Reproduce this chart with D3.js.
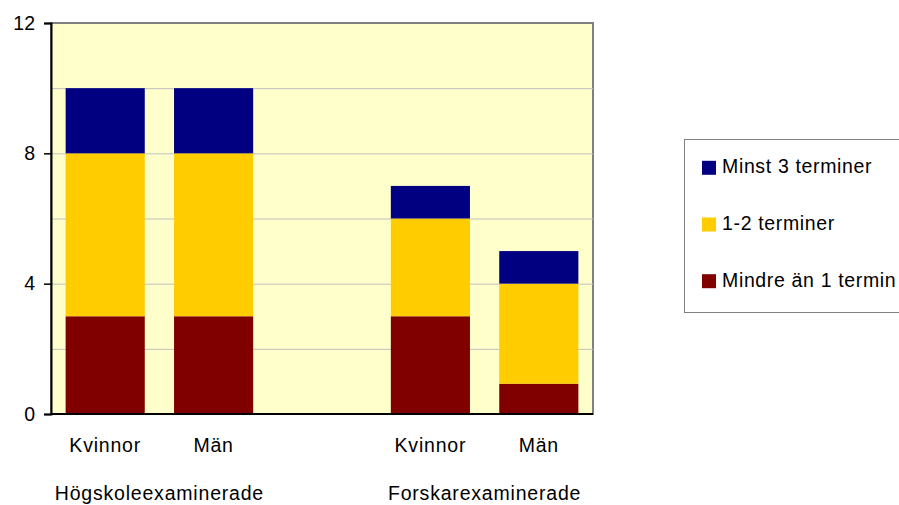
<!DOCTYPE html>
<html>
<head>
<meta charset="utf-8">
<script src="https://cdn.jsdelivr.net/npm/d3@7"></script>
<style>
  body { margin: 0; background: #fff; }
  svg text { font-family: "Liberation Sans", Arial, sans-serif; fill: #000; }
</style>
</head>
<body>
<div id="chart"></div>
<script>
(function(){

    // data
    var slots = ["hk", "hm", "gap", "fk", "fm"];
    var barLabels = ["Kvinnor", "Män", "", "Kvinnor", "Män"];
    var groups = ["Högskoleexaminerade", "Forskarexaminerade"];
    var groupSlots = [["hk", "hm"], ["fk", "fm"]];
    var seriesNames = ["Mindre än 1 termin", "1-2 terminer", "Minst 3 terminer"];
    var mindre = [3, 3, 0, 3, 0.93];
    var ettTva = [5, 5, 0, 3, 3.07];
    var minst = [2, 2, 0, 1, 1];
    var colors = ["#800000", "#ffcc00", "#000080"];
    var yTicks = [0, 4, 8, 12];
    var yGrid = [2, 4, 6, 8, 10];

    var width = 899, height = 505;
    var left = 51, right = 593, top = 23, bottom = 414;

    var rows = slots.map(function(s, i){
      return { slot: s, a: mindre[i], b: ettTva[i], c: minst[i] };
    });
    var stack = d3.stack().keys(["a", "b", "c"])(rows.filter(function(r){ return r.slot != "gap"; }));

    var x = d3.scaleBand().domain(slots).range([left, right]).paddingInner(0.27).paddingOuter(0.135);
    var y = d3.scaleLinear().domain([0, 12]).range([bottom, top]);

    var svg = d3.select("#chart").append("svg")
      .attr("width", width)
      .attr("height", height);

    svg.append("rect")
      .attr("x", left).attr("y", top)
      .attr("width", right - left).attr("height", bottom - top)
      .attr("fill", "#ffffcc")
      .attr("stroke", "#808080")
      .attr("stroke-width", 2);

    svg.selectAll(".grid")
      .data(yGrid)
      .enter()
      .append("line")
      .attr("x1", left).attr("x2", right)
      .attr("y1", function(d){ return y(d) + 0.5; })
      .attr("y2", function(d){ return y(d) + 0.5; })
      .attr("stroke", "#c0c0c0");

    svg.selectAll(".layer")
      .data(stack)
      .enter()
      .append("g")
      .attr("fill", function(d, i){ return colors[i]; })
      .selectAll("rect")
      .data(function(d){ return d; })
      .enter()
      .append("rect")
      .attr("x", function(d){ return x(d.data.slot); })
      .attr("width", x.bandwidth())
      .attr("y", function(d){ return y(d[1]); })
      .attr("height", function(d){ return y(d[0]) - y(d[1]); });

    // axes
    var yAxis = svg.append("g")
      .attr("transform", "translate(" + left + ",0)")
      .call(d3.axisLeft(y).tickValues(yTicks).tickSize(7).tickPadding(9));
    yAxis.select(".domain").attr("stroke", "#000").attr("stroke-width", 2);
    yAxis.selectAll(".tick line").attr("stroke", "#000").attr("stroke-width", 1.5);
    yAxis.selectAll("text")
      .style("font-size", "19.5px")
      .attr("fill", "#000");

    svg.append("line")
      .attr("x1", left).attr("x2", right)
      .attr("y1", bottom).attr("y2", bottom)
      .attr("stroke", "#000").attr("stroke-width", 2);

    svg.selectAll(".barlabel")
      .data(slots)
      .enter()
      .append("text")
      .attr("x", function(d){ return x(d) + x.bandwidth() / 2; })
      .attr("y", 452)
      .attr("text-anchor", "middle")
      .style("font-size", "19.5px")
      .style("letter-spacing", "0.8px")
      .text(function(d, i){ return barLabels[i]; });

    svg.selectAll(".grouplabel")
      .data(groups)
      .enter()
      .append("text")
      .attr("x", function(d, i){
        var s = groupSlots[i];
        return (x(s[0]) + x(s[1]) + x.bandwidth()) / 2;
      })
      .attr("y", 500)
      .attr("text-anchor", "middle")
      .style("font-size", "19.5px")
      .style("letter-spacing", "0.8px")
      .text(function(d){ return d; });

    // legend
    var legend = svg.append("g");
    legend.append("rect")
      .attr("x", 684.5).attr("y", 139.5)
      .attr("width", 240).attr("height", 173)
      .attr("fill", "#fff")
      .attr("stroke", "#808080");

    var legendItems = seriesNames.slice().reverse();
    var legendColors = colors.slice().reverse();
    var item = legend.selectAll(".item")
      .data(legendItems)
      .enter()
      .append("g")
      .attr("transform", function(d, i){ return "translate(702," + (173.3 + i * 56.7) + ")"; });
    item.append("rect")
      .attr("x", 0).attr("y", -12.5)
      .attr("width", 14).attr("height", 14)
      .attr("fill", function(d, i){ return legendColors[i]; });
    item.append("text")
      .attr("x", 20)
      .style("font-size", "19.5px")
      .style("letter-spacing", "0.65px")
      .text(function(d){ return d; });

})();
</script>
</body>
</html>
